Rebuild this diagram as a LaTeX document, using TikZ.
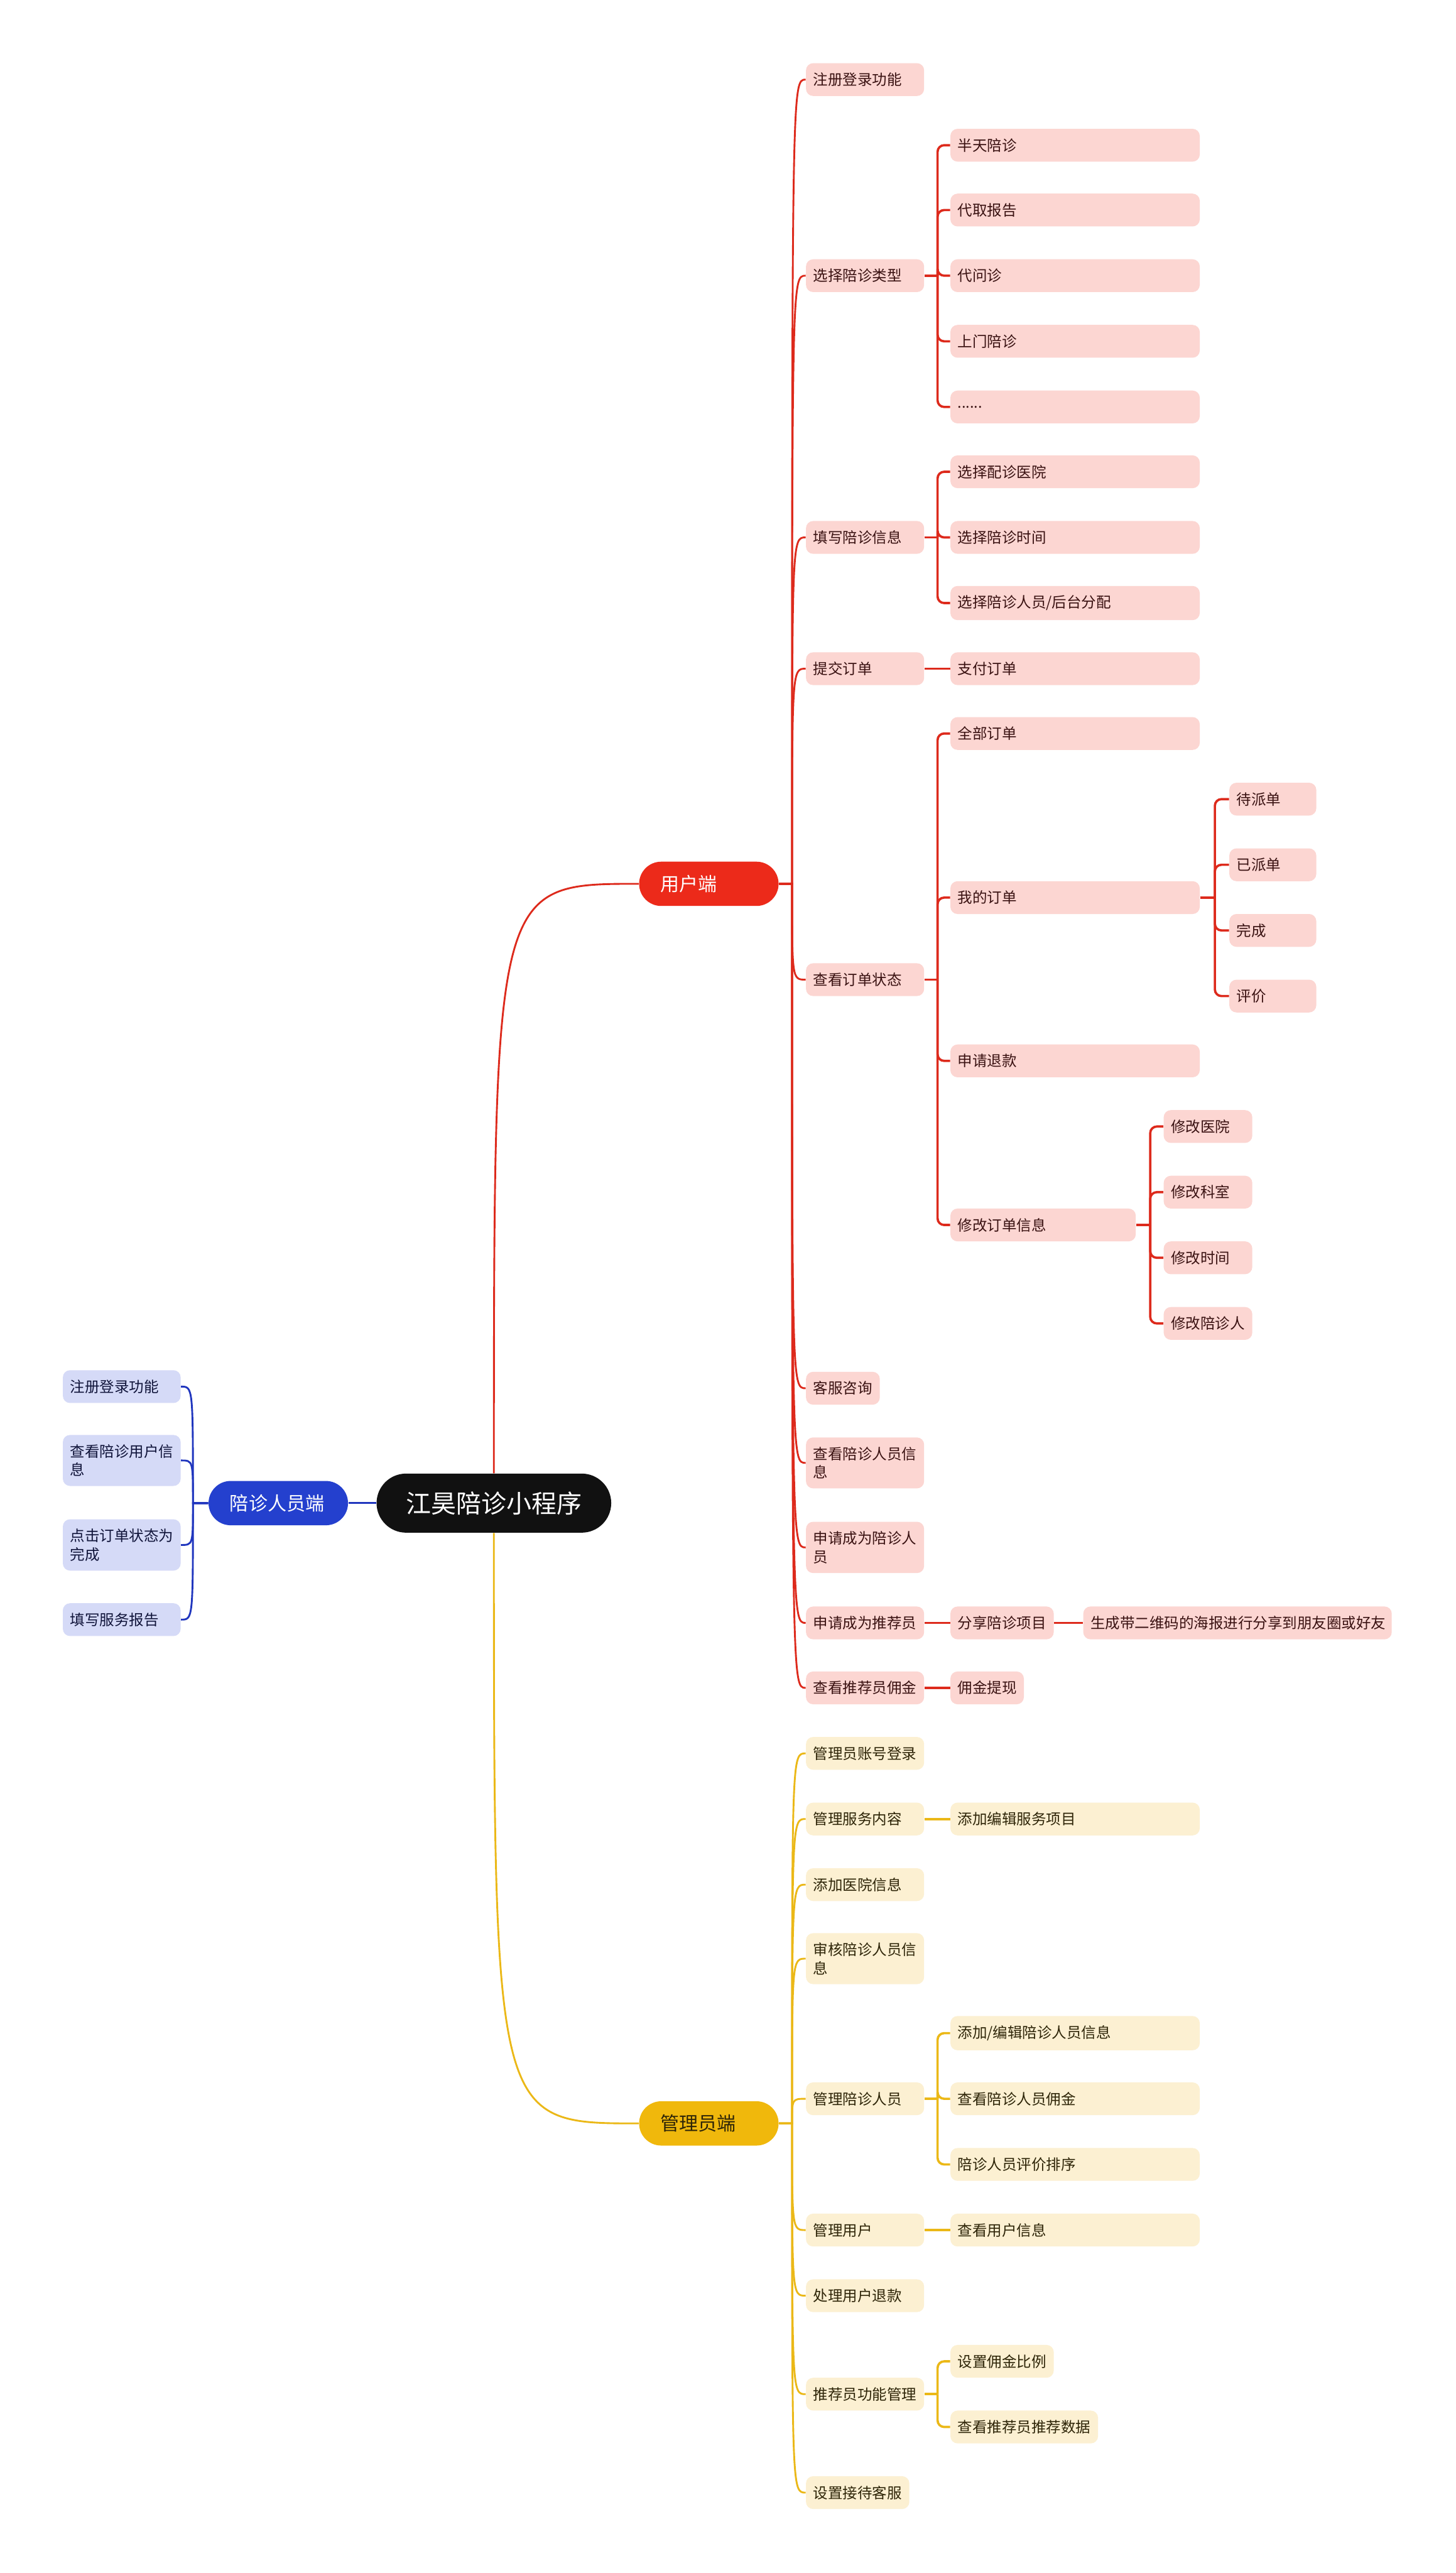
\documentclass[tikz,border=0pt]{standalone}
\usepackage{fontspec}
\setmainfont{Noto Sans CJK SC}

\definecolor{rootblack}{HTML}{111111}
\definecolor{userred}{HTML}{EC2A1A}
\definecolor{userline}{HTML}{DD2A1C}
\definecolor{userfill}{HTML}{FCD6D2}
\definecolor{usertext}{HTML}{3A1212}
\definecolor{staffblue}{HTML}{2440CE}
\definecolor{staffline}{HTML}{2036BE}
\definecolor{stafffill}{HTML}{D5DAF7}
\definecolor{stafftext}{HTML}{10143A}
\definecolor{adminyellow}{HTML}{F0B80C}
\definecolor{adminline}{HTML}{EBB817}
\definecolor{adminfill}{HTML}{FCF0D2}
\definecolor{admintext}{HTML}{2E2508}

\begin{document}
\begin{tikzpicture}[x=1pt, y=-1pt,
  appnode/.style={fill=rootblack, text=white, rounded corners=18pt,
    minimum width=143pt, minimum height=36pt, inner sep=0pt,
    font=\fontsize{15.3}{18}\selectfont},
  sidenode/.style={rounded corners=13.5pt, text width=59pt, align=left,
    inner xsep=13pt, inner ysep=0pt, minimum height=27pt,
    font=\fontsize{11.5}{14}\selectfont},
  leaf/.style={rounded corners=4.4pt, minimum height=20pt, inner xsep=4.4pt,
    inner ysep=5.8pt, align=left, anchor=west,
    font=\fontsize{9}{11.3}\selectfont},
  tw/.style={text width=#1},
  redleaf/.style={leaf, fill=userfill, text=usertext},
  blueleaf/.style={leaf, fill=stafffill, text=stafftext, anchor=east},
  yellowleaf/.style={leaf, fill=adminfill, text=admintext},
  redlink/.style={draw=userline, line width=1.1pt},
  bluelink/.style={draw=staffline, line width=1.1pt},
  yellowlink/.style={draw=adminline, line width=1.1pt},
  elbow/.style={rounded corners=4pt, line width=1.4pt}]

  % Page.
  \fill[white] (0,0) rectangle (887,1568);

  % Centre and the three sides.
  \node[appnode] (app) at (301,916) {江昊陪诊小程序};
  \node[sidenode, fill=userred, text=white] (user) at (432,538.6) {用户端};
  \node[sidenode, fill=staffblue, text=white] (staff) at (169.6,916) {陪诊人员端};
  \node[sidenode, fill=adminyellow, text=admintext] (admin) at (432,1294) {管理员端};

  % User side, second level.
  \node[redleaf, tw=63.2pt] (login) at (491,48.5) {注册登录功能};
  \node[redleaf, tw=63.2pt] (type) at (491,168) {选择陪诊类型};
  \node[redleaf, tw=63.2pt] (info) at (491,327.5) {填写陪诊信息};
  \node[redleaf, tw=63.2pt] (submit) at (491,407.5) {提交订单};
  \node[redleaf, tw=63.2pt] (status) at (491,597) {查看订单状态};
  \node[redleaf, tw=36.2pt] (service) at (491,846) {客服咨询};
  \node[redleaf, tw=63.2pt] (viewstaff) at (491,891.5) {查看陪诊人员信\\息};
  \node[redleaf, tw=63.2pt] (applystaff) at (491,943) {申请成为陪诊人\\员};
  \node[redleaf, tw=63.2pt] (applyref) at (491,989) {申请成为推荐员};
  \node[redleaf, tw=63.2pt] (refcomm) at (491,1028.6) {查看推荐员佣金};

  % User side, third level and below.
  \node[redleaf, tw=143.2pt] (halfday) at (579,88.5) {半天陪诊};
  \node[redleaf, tw=143.2pt] (report) at (579,128) {代取报告};
  \node[redleaf, tw=143.2pt] (proxy) at (579,168) {代问诊};
  \node[redleaf, tw=143.2pt] (home) at (579,208) {上门陪诊};
  \node[redleaf, tw=143.2pt] (more) at (579,248) {......};
  \node[redleaf, tw=143.2pt] (hosp) at (579,287.5) {选择配诊医院};
  \node[redleaf, tw=143.2pt] (time) at (579,327.5) {选择陪诊时间};
  \node[redleaf, tw=143.2pt] (person) at (579,367.5) {选择陪诊人员/后台分配};
  \node[redleaf, tw=143.2pt] (pay) at (579,407.5) {支付订单};
  \node[redleaf, tw=143.2pt] (allord) at (579,447) {全部订单};
  \node[redleaf, tw=143.2pt] (myord) at (579,547) {我的订单};
  \node[redleaf, tw=143.2pt] (refund) at (579,646.5) {申请退款};
  \node[redleaf, tw=104.2pt] (modify) at (579,746.5) {修改订单信息};
  \node[redleaf, tw=44.2pt] (pending) at (749,487) {待派单};
  \node[redleaf, tw=44.2pt] (assigned) at (749,527) {已派单};
  \node[redleaf, tw=44.2pt] (done) at (749,567) {完成};
  \node[redleaf, tw=44.2pt] (rate) at (749,607) {评价};
  \node[redleaf, tw=45.2pt] (mhosp) at (709,686.5) {修改医院};
  \node[redleaf, tw=45.2pt] (mdept) at (709,726.5) {修改科室};
  \node[redleaf, tw=45.2pt] (mtime) at (709,766.5) {修改时间};
  \node[redleaf, tw=45.2pt] (mperson) at (709,806.5) {修改陪诊人};
  \node[redleaf, tw=54.2pt] (share) at (579,989) {分享陪诊项目};
  \node[redleaf, tw=179.2pt] (poster) at (660,989) {生成带二维码的海报进行分享到朋友圈或好友};
  \node[redleaf, tw=36pt] (withdraw) at (579,1028.6) {佣金提现};

  % Staff side.
  \node[blueleaf, tw=63pt] (slogin) at (110.3,845) {注册登录功能};
  \node[blueleaf, tw=63pt] (sview) at (110.3,890) {查看陪诊用户信\\息};
  \node[blueleaf, tw=63pt] (sdone) at (110.3,941.5) {点击订单状态为\\完成};
  \node[blueleaf, tw=63pt] (sreport) at (110.3,987) {填写服务报告};

  % Admin side.
  \node[yellowleaf, tw=63.2pt] (alogin) at (491,1068.5) {管理员账号登录};
  \node[yellowleaf, tw=63.2pt] (aserv) at (491,1108.5) {管理服务内容};
  \node[yellowleaf, tw=63.2pt] (ahosp) at (491,1148.5) {添加医院信息};
  \node[yellowleaf, tw=63.2pt] (aaudit) at (491,1193.6) {审核陪诊人员信\\息};
  \node[yellowleaf, tw=63.2pt] (astaff) at (491,1279) {管理陪诊人员};
  \node[yellowleaf, tw=63.2pt] (auser) at (491,1359) {管理用户};
  \node[yellowleaf, tw=63.2pt] (arefund) at (491,1399) {处理用户退款};
  \node[yellowleaf, tw=63.2pt] (aref) at (491,1459) {推荐员功能管理};
  \node[yellowleaf, tw=54.2pt] (acs) at (491,1519) {设置接待客服};
  \node[yellowleaf, tw=143.2pt] (aservedit) at (579,1108.5) {添加编辑服务项目};
  \node[yellowleaf, tw=143.2pt] (asadd) at (579,1239) {添加/编辑陪诊人员信息};
  \node[yellowleaf, tw=143.2pt] (ascomm) at (579,1279) {查看陪诊人员佣金};
  \node[yellowleaf, tw=143.2pt] (asrank) at (579,1319) {陪诊人员评价排序};
  \node[yellowleaf, tw=143.2pt] (auinfo) at (579,1359) {查看用户信息};
  \node[yellowleaf, tw=54.2pt] (arrate) at (579,1439) {设置佣金比例};
  \node[yellowleaf, tw=81.2pt] (ardata) at (579,1479) {查看推荐员推荐数据};

  % Centre to sides.
  \draw[redlink] (app.north) .. controls (app.north |- user.west) .. (user.west);
  \draw[yellowlink] (app.south) .. controls (app.south |- admin.west) .. (admin.west);
  \draw[bluelink] (app.west) -- (staff.east);

  % Curved links, second level.
  \coordinate (userhub) at ([xshift=8pt]user.east);
  \foreach \c in {login,type,info,submit,status,service,viewstaff,applystaff,applyref,refcomm}
    \draw[redlink] (user.east) -- (userhub) .. controls (userhub |- \c.west) .. (\c.west);
  \coordinate (adminhub) at ([xshift=8pt]admin.east);
  \foreach \c in {alogin,aserv,ahosp,aaudit,astaff,auser,arefund,aref,acs}
    \draw[yellowlink] (admin.east) -- (adminhub) .. controls (adminhub |- \c.west) .. (\c.west);
  \coordinate (staffhub) at ([xshift=-9.3pt]staff.west);
  \foreach \c in {slogin,sview,sdone,sreport}
    \draw[bluelink] (staff.west) -- (staffhub) .. controls (staffhub |- \c.east) .. (\c.east);

  % Elbow links, third level and below.
  \coordinate (typehub) at ([xshift=8pt]type.east);
  \draw[redlink, elbow] (type.east) -- (typehub);
  \foreach \c in {halfday,report,proxy,home,more}
    \draw[redlink, elbow] (typehub) |- (\c.west);
  \coordinate (infohub) at ([xshift=8pt]info.east);
  \draw[redlink, elbow] (info.east) -- (infohub);
  \foreach \c in {hosp,time,person}
    \draw[redlink, elbow] (infohub) |- (\c.west);
  \draw[redlink, elbow] (submit.east) -- (pay.west);
  \coordinate (statushub) at ([xshift=8pt]status.east);
  \draw[redlink, elbow] (status.east) -- (statushub);
  \foreach \c in {allord,myord,refund,modify}
    \draw[redlink, elbow] (statushub) |- (\c.west);
  \coordinate (myordhub) at ([xshift=9pt]myord.east);
  \draw[redlink, elbow] (myord.east) -- (myordhub);
  \foreach \c in {pending,assigned,done,rate}
    \draw[redlink, elbow] (myordhub) |- (\c.west);
  \coordinate (modifyhub) at ([xshift=8.6pt]modify.east);
  \draw[redlink, elbow] (modify.east) -- (modifyhub);
  \foreach \c in {mhosp,mdept,mtime,mperson}
    \draw[redlink, elbow] (modifyhub) |- (\c.west);
  \draw[redlink, elbow] (applyref.east) -- (share.west);
  \draw[redlink, elbow] (share.east) -- (poster.west);
  \draw[redlink, elbow] (refcomm.east) -- (withdraw.west);

  \draw[yellowlink, elbow] (aserv.east) -- (aservedit.west);
  \coordinate (astaffhub) at ([xshift=8pt]astaff.east);
  \draw[yellowlink, elbow] (astaff.east) -- (astaffhub);
  \foreach \c in {asadd,ascomm,asrank}
    \draw[yellowlink, elbow] (astaffhub) |- (\c.west);
  \draw[yellowlink, elbow] (auser.east) -- (auinfo.west);
  \coordinate (arefhub) at ([xshift=8pt]aref.east);
  \draw[yellowlink, elbow] (aref.east) -- (arefhub);
  \foreach \c in {arrate,ardata}
    \draw[yellowlink, elbow] (arefhub) |- (\c.west);

\end{tikzpicture}
\end{document}
